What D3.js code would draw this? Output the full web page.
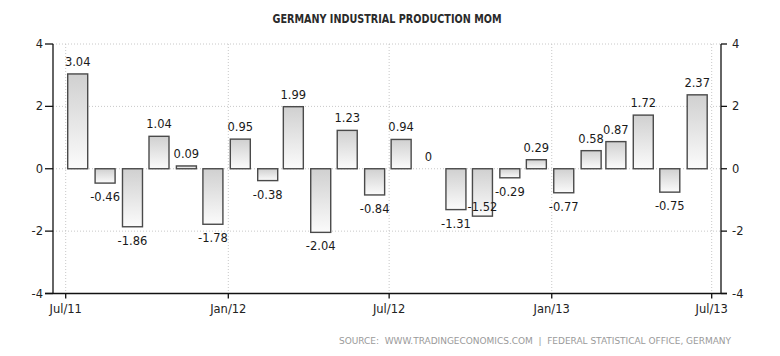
<!DOCTYPE html>
<html><head><meta charset="utf-8">
<script src="https://cdn.jsdelivr.net/npm/d3@7"></script>
<style>
html,body{margin:0;padding:0;background:#fff;}
svg{display:block;font-family:"DejaVu Sans",Verdana,sans-serif;}
</style></head>
<body><svg id="chart" width="780" height="356"></svg>
<script>
const months = ["2011-07","2011-08","2011-09","2011-10","2011-11","2011-12",
  "2012-01","2012-02","2012-03","2012-04","2012-05","2012-06",
  "2012-07","2012-08","2012-09","2012-10","2012-11","2012-12",
  "2013-01","2013-02","2013-03","2013-04","2013-05","2013-06"];
const values = [3.04,-0.46,-1.86,1.04,0.09,-1.78,
  0.95,-0.38,1.99,-2.04,1.23,-0.84,
  0.94,0,-1.31,-1.52,-0.29,0.29,
  -0.77,0.58,0.87,1.72,-0.75,2.37];
const yTicks = [-4,-2,0,2,4];
const xTickDates = ["2011-07","2012-01","2012-07","2013-01","2013-07"];
const xTickLabels = ["Jul/11","Jan/12","Jul/12","Jan/13","Jul/13"];
const title = "GERMANY INDUSTRIAL PRODUCTION MOM";
const source = "SOURCE:  WWW.TRADINGECONOMICS.COM  |  FEDERAL STATISTICAL OFFICE, GERMANY";

const parse = d3.utcParse("%Y-%m");
const svg = d3.select("#chart");
const L = 53, R = 721, T = 44, B = 293.5;
const x = d3.scaleUtc().domain([parse("2011-07"), parse("2013-07")]).range([65.7, 711.7]);
const y = d3.scaleLinear().domain([-4, 4]).range([B, T]);

const defs = svg.append("defs");
const grad = defs.append("linearGradient").attr("id","barg").attr("x1",0).attr("y1",0).attr("x2",0).attr("y2",1);
grad.append("stop").attr("offset","0%").attr("stop-color","#d0d0d0");
grad.append("stop").attr("offset","100%").attr("stop-color","#fbfbfb");

// title
svg.append("text").attr("x", 387).attr("y", 23).attr("text-anchor","middle")
  .attr("font-size", 12.5).attr("font-weight","bold").attr("fill","#2a2a2a")
  .attr("textLength", 229).attr("lengthAdjust","spacingAndGlyphs").text(title);

// gridlines
const g = svg.append("g");
g.selectAll(".hg").data(yTicks.filter(d => d !== -4)).join("line")
  .attr("x1", L).attr("x2", R).attr("y1", d => y(d)).attr("y2", d => y(d))
  .attr("stroke","#c8c8c8").attr("stroke-dasharray","1,2");
g.selectAll(".vg").data(xTickDates).join("line")
  .attr("x1", d => x(parse(d))).attr("x2", d => x(parse(d)))
  .attr("y1", T).attr("y2", B)
  .attr("stroke","#c8c8c8").attr("stroke-dasharray","1,2");

// bars
const bw = 20;
svg.append("g").selectAll("rect").data(values.map((v,i)=>({v, d: parse(months[i])})).filter(o => o.v !== 0))
  .join("rect")
  .attr("x", o => x(o.d) + 2)
  .attr("width", bw)
  .attr("y", o => Math.min(y(o.v), y(0)))
  .attr("height", o => Math.abs(y(o.v) - y(0)))
  .attr("fill","url(#barg)").attr("stroke","#4a4a4a").attr("stroke-width",1.4);

// value labels
const lab = svg.append("g").attr("font-size", 11.5).attr("fill","#1a1a1a").attr("text-anchor","middle");
let prev = null;
values.forEach((v, i) => {
  const cx = x(parse(months[i])) + 2 + bw/2;
  let cy = v >= 0 ? y(v) - 12 : y(v) + 14;
  const t = lab.append("text").attr("x", cx).attr("dy","0.35em").text(v === 0 ? "0" : d3.format(".2f")(v).replace("−","-"));
  const w = t.node().getComputedTextLength();
  if (prev && v < 0 && prev.v < 0 && Math.abs(prev.cx - cx) < (w + prev.w)/2 + 4 && Math.abs(prev.cy - cy) < 12) {
    cy = y(v) - 9;
  }
  t.attr("y", cy);
  prev = {v, cx, cy, w};
});

// axes
const ax = svg.append("g").attr("stroke","#111").attr("stroke-width",1.3);
ax.append("line").attr("x1",L).attr("x2",L).attr("y1",T).attr("y2",B);
ax.append("line").attr("x1",R).attr("x2",R).attr("y1",T).attr("y2",B);
ax.append("line").attr("x1",L-8).attr("x2",R+6).attr("y1",B).attr("y2",B);
ax.selectAll(".lt").data(yTicks).join("line").attr("x1",L-8).attr("x2",L).attr("y1",d=>y(d)).attr("y2",d=>y(d));
ax.selectAll(".rt").data(yTicks).join("line").attr("x1",R).attr("x2",R+6).attr("y1",d=>y(d)).attr("y2",d=>y(d));
ax.selectAll(".bt").data(xTickDates).join("line").attr("x1",d=>x(parse(d))).attr("x2",d=>x(parse(d))).attr("y1",B).attr("y2",B+5);

const tl = svg.append("g").attr("font-size", 11.5).attr("fill","#222");
tl.selectAll(".ly").data(yTicks).join("text").attr("x", L-10).attr("y", d=>y(d)).attr("dy","0.35em")
  .attr("text-anchor","end").text(d => String(d));
tl.selectAll(".ry").data(yTicks).join("text").attr("x", R+11).attr("y", d=>y(d)).attr("dy","0.35em")
  .attr("text-anchor","start").text(d => String(d));
tl.selectAll(".xl").data(xTickDates).join("text").attr("x", d=>x(parse(d))).attr("y", 309).attr("dy","0.35em")
  .attr("text-anchor","middle").text((d,i) => xTickLabels[i]);

// source
svg.append("text").attr("x", 731).attr("y", 344).attr("text-anchor","end")
  .attr("font-size", 9).attr("fill","#9a9a9a").style("white-space","pre")
  .attr("textLength", 392).attr("lengthAdjust","spacing").text(source);
</script></body></html>
